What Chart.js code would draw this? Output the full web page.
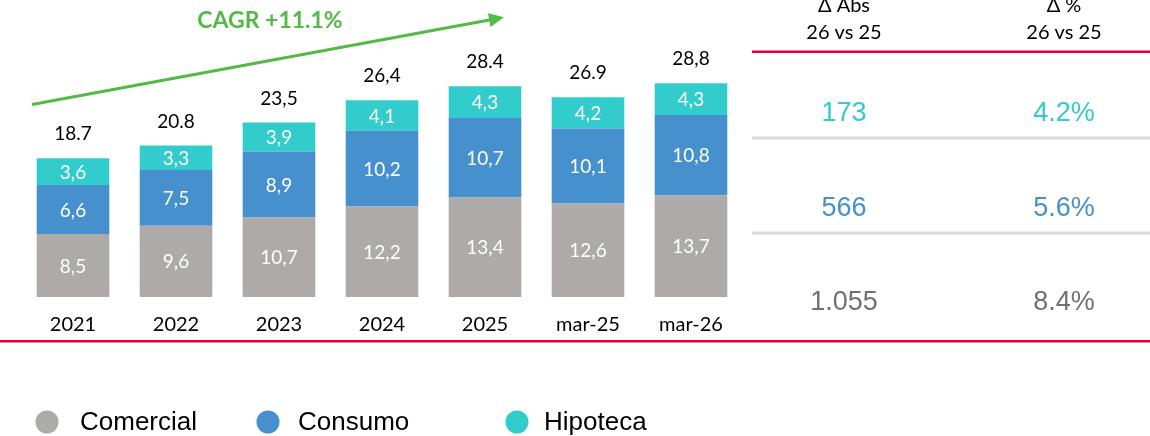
<!DOCTYPE html>
<html>
<head>
<meta charset="utf-8">
<script src="https://cdn.jsdelivr.net/npm/chart.js@4.4.1/dist/chart.umd.min.js"></script>
<style>
  html, body { margin: 0; padding: 0; background: #ffffff; }
  #wrap { width: 1150px; height: 436px; position: relative; }
</style>
</head>
<body>
<div id="wrap"><canvas id="c" width="1150" height="436"></canvas></div>
<script>
// ---- Data ----
const categories = ['2021', '2022', '2023', '2024', '2025', 'mar-25', 'mar-26'];
const comercial = [8.5, 9.6, 10.7, 12.2, 13.4, 12.6, 13.7];
const consumo = [6.6, 7.5, 8.9, 10.2, 10.7, 10.1, 10.8];
const hipoteca = [3.6, 3.3, 3.9, 4.1, 4.3, 4.2, 4.3];
const totalLabels = ['18.7', '20.8', '23,5', '26,4', '28.4', '26.9', '28,8'];
const seriesNames = ['Comercial', 'Consumo', 'Hipoteca'];
const tableHeaders = [['Δ Abs', '26 vs 25'], ['Δ %', '26 vs 25']];
// table rows, top to bottom: Hipoteca, Consumo, Comercial
const deltaAbs = ['173', '566', '1.055'];
const deltaPct = ['4.2%', '5.6%', '8.4%'];
const cagrLabel = 'CAGR +11.1%';

const COLORS = { Comercial: '#AEAAA9', Consumo: '#4690CD', Hipoteca: '#33CCCC' };
const TABLE_COLORS = ['#33CCCC', '#4690CD', '#707070'];
const RED = '#E4002B';
const GREEN = '#55B948';
const LATO = 'Lato, "Open Sans", sans-serif';
const ARIAL = '"Liberation Sans", Arial, sans-serif';

const fmt = v => v.toFixed(1).replace('.', ',');

const overlay = {
  id: 'overlay',
  afterDatasetsDraw(chart) {
    const ctx = chart.ctx;
    const x = chart.scales.x, y = chart.scales.y;
    ctx.save();
    // segment labels
    ctx.font = '19px ' + LATO;
    ctx.fillStyle = '#ffffff';
    ctx.textAlign = 'center';
    ctx.textBaseline = 'middle';
    chart.data.datasets.forEach((ds, di) => {
      const meta = chart.getDatasetMeta(di);
      meta.data.forEach((bar, i) => {
        const p = bar.getProps(['x', 'y', 'base'], true);
        ctx.fillText(fmt(ds.data[i]), p.x, (p.y + p.base) / 2 + 1);
      });
    });
    // totals
    ctx.fillStyle = '#000000';
    ctx.textBaseline = 'alphabetic';
    categories.forEach((c, i) => {
      const total = comercial[i] + consumo[i] + hipoteca[i];
      ctx.fillText(totalLabels[i], x.getPixelForValue(i), y.getPixelForValue(total) - 18);
    });
    // category labels
    ctx.font = '20px ' + LATO;
    ctx.textBaseline = 'middle';
    categories.forEach((c, i) => {
      ctx.fillText(c, x.getPixelForValue(i), 325);
    });

    // red baseline
    ctx.fillStyle = RED;
    ctx.fillRect(0, 340, 1150, 2.5);
    // table
    ctx.fillRect(752, 50.5, 398, 2.5);
    ctx.fillStyle = '#D9DADC';
    ctx.fillRect(752, 136.5, 398, 3);
    ctx.fillRect(752, 231.5, 398, 3);
    const colX = [844, 1064];
    ctx.fillStyle = '#000000';
    ctx.font = '20px ' + LATO;
    tableHeaders.forEach((h, j) => {
      ctx.fillText(h[0], colX[j], 6);
      ctx.fillText(h[1], colX[j], 33);
    });
    const rowY = [114, 209, 303];
    ctx.font = '27px ' + ARIAL;
    deltaAbs.forEach((v, r) => {
      ctx.fillStyle = TABLE_COLORS[r];
      ctx.fillText(v, colX[0], rowY[r]);
      ctx.fillText(deltaPct[r], colX[1], rowY[r]);
    });

    // legend
    const legX = [47, 268, 517];
    const legTextX = [80, 298, 544];
    ctx.textAlign = 'left';
    ctx.font = '26px ' + ARIAL;
    chart.data.datasets.forEach((ds, di) => {
      ctx.fillStyle = ds.backgroundColor;
      ctx.beginPath();
      ctx.ellipse(legX[di], 422, 11.5, 11.5, 0, 0, Math.PI * 2);
      ctx.fill();
      ctx.fillStyle = '#000000';
      ctx.fillText(ds.label, legTextX[di], 423);
    });

    // CAGR arrow
    ctx.strokeStyle = GREEN;
    ctx.fillStyle = GREEN;
    ctx.lineWidth = 3;
    const x0 = 32, y0 = 104.5, x1 = 492, y1 = 19.5;
    ctx.beginPath();
    ctx.moveTo(x0, y0);
    ctx.lineTo(x1, y1);
    ctx.stroke();
    const ang = Math.atan2(y1 - y0, x1 - x0);
    const tipX = 504, tipY = 17.3;
    ctx.beginPath();
    ctx.moveTo(tipX, tipY);
    ctx.lineTo(tipX - 15 * Math.cos(ang) + 7 * Math.sin(ang), tipY - 15 * Math.sin(ang) - 7 * Math.cos(ang));
    ctx.lineTo(tipX - 15 * Math.cos(ang) - 7 * Math.sin(ang), tipY - 15 * Math.sin(ang) + 7 * Math.cos(ang));
    ctx.closePath();
    ctx.fill();
    ctx.textAlign = 'center';
    ctx.font = 'bold 23px ' + LATO;
    ctx.fillText(cagrLabel, 270, 21);
    ctx.restore();
  }
};

new Chart(document.getElementById('c'), {
  type: 'bar',
  data: {
    labels: categories,
    datasets: [
      { label: seriesNames[0], data: comercial, backgroundColor: COLORS.Comercial },
      { label: seriesNames[1], data: consumo, backgroundColor: COLORS.Consumo },
      { label: seriesNames[2], data: hipoteca, backgroundColor: COLORS.Hipoteca }
    ]
  },
  options: {
    responsive: false,
    animation: false,
    devicePixelRatio: 1,
    layout: { padding: { left: 21.5, right: 407.5, top: 0, bottom: 139 } },
    datasets: { bar: { categoryPercentage: 1, barPercentage: 0.705, borderWidth: 0 } },
    scales: {
      x: { stacked: true, display: false },
      y: { stacked: true, display: false, min: 0, max: 40 }
    },
    plugins: { legend: { display: false }, tooltip: { enabled: false } }
  },
  plugins: [overlay]
});
</script>
</body>
</html>
